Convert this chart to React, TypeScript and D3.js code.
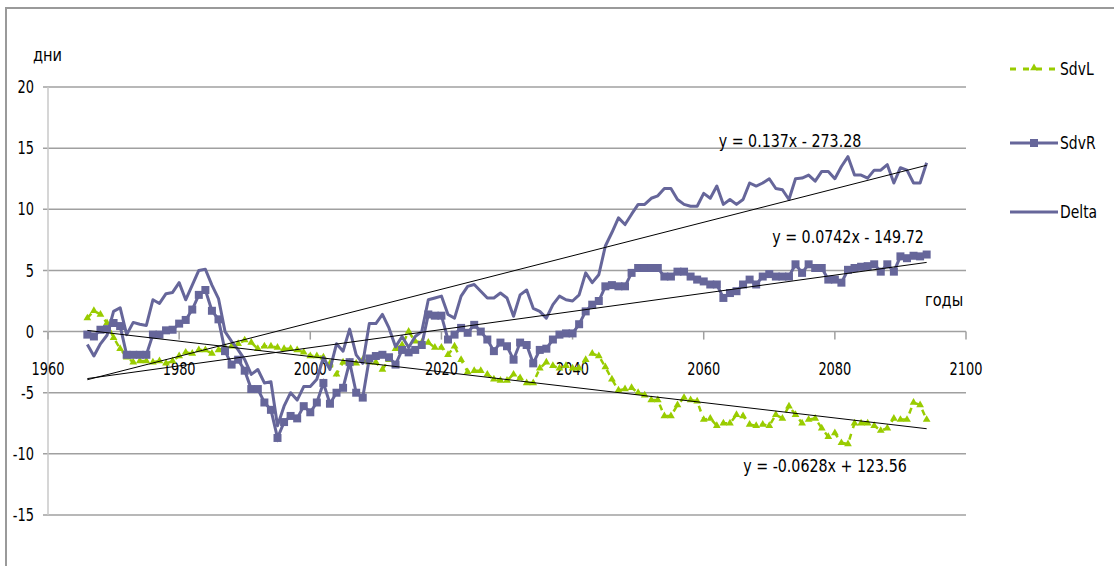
import * as d3 from "d3";

// years of the series (categories)
const startYear = 1966;

const sdvL = [
  1.1, 1.7, 1.4, 0.7, -0.5, -1.4, -2.1, -2.5, -2.4, -2.4,
  -2.5, -2.4, -2.6, -2.4, -2.0, -1.7, -1.8, -1.5, -1.5, -1.8,
  -1.5, -1.3, -1.2, -1.0, -0.7, -0.9, -1.4, -1.2, -1.2, -1.3,
  -1.4, -1.4, -1.5, -1.7, -2.0, -2.0, -2.1, -2.6, -3.5, -2.5,
  -2.5, -2.6, -2.3, -2.5, -2.5, -3.1, -2.3, -1.4, -1.1, 0.0,
  -0.8, -0.9, -0.9, -1.3, -1.3, -1.9, -1.2, -2.3, -3.3, -3.2,
  -3.2, -3.5, -3.9, -4.0, -4.0, -3.5, -3.8, -4.2, -4.2, -3.0,
  -2.5, -2.8, -3.0, -2.8, -3.0, -3.0, -2.3, -1.8, -2.0, -2.9,
  -3.9, -4.8, -4.7, -4.6, -5.0, -5.2, -5.6, -5.6, -6.9, -6.9,
  -6.0, -5.4, -5.6, -5.7, -7.2, -7.1, -7.7, -7.5, -7.5, -6.8,
  -6.9, -7.6, -7.7, -7.6, -7.7, -6.8, -7.1, -6.1, -6.8, -7.5,
  -7.2, -7.1, -7.9, -8.6, -8.3, -9.1, -9.2, -7.5, -7.5, -7.5,
  -7.7, -8.1, -7.9, -7.1, -7.2, -7.2, -5.8, -6.0, -7.2,
];

const sdvR = [
  -0.25, -0.4, 0.15, 0.2, 0.7, 0.45, -1.9, -1.9, -1.9, -1.9,
  -0.25, -0.25, 0.1, 0.15, 0.65, 0.95, 1.8, 3.0, 3.4, 1.7,
  1.0, -1.6, -2.7, -2.3, -3.2, -4.7, -4.7, -5.8, -6.4, -8.7,
  -7.4, -6.9, -7.1, -6.1, -6.6, -5.8, -4.2, -5.9, -5.0, -4.6,
  -2.5, -5.0, -5.4, -2.2, -2.0, -1.9, -2.1, -2.7, -1.5, -1.7,
  -1.5, -1.1, 1.4, 1.3, 1.3, -0.65, -0.25, 0.3, -0.1, 0.55,
  0.0, -0.65, -1.6, -0.9, -1.2, -2.3, -0.9, -1.1, -2.6, -1.5,
  -1.4, -0.65, -0.25, -0.15, -0.15, 0.6, 1.65, 2.2, 2.5, 3.7,
  3.8, 3.7, 3.7, 4.8, 5.2, 5.2, 5.2, 5.2, 4.5, 4.5,
  4.9, 4.9, 4.5, 4.25, 4.1, 3.85, 3.85, 2.75, 3.15, 3.3,
  3.85, 4.25, 3.85, 4.5, 4.7, 4.5, 4.5, 4.5, 5.5, 4.8,
  5.5, 5.2, 5.2, 4.25, 4.25, 4.0, 5.05, 5.2, 5.3, 5.35,
  5.5, 4.9, 5.5, 4.9, 6.15, 6.0, 6.2, 6.15, 6.3,
];

const delta = [
  -1.05, -2.0, -1.0, -0.3, 1.65, 1.95, -0.25, 0.75, 0.6, 0.5,
  2.6, 2.3, 3.1, 3.2, 4.0, 2.6, 3.8, 5.0, 5.1, 3.8,
  2.7, 0.0, -0.8, -1.5, -2.3, -3.5, -3.1, -4.2, -4.1, -7.7,
  -6.1, -5.0, -5.6, -4.5, -4.5, -3.9, -2.1, -3.1, -1.0, -1.6,
  0.2, -1.9, -2.6, 0.65, 0.65, 1.4, 0.3, -1.25, -0.4, -1.3,
  -0.4, 0.0, 2.6, 2.75, 2.9, 1.4, 1.1, 2.9, 3.7, 3.85,
  3.3, 2.75, 2.75, 3.15, 2.75, 1.25, 3.0, 3.4, 1.9, 1.65,
  1.1, 2.2, 2.9, 2.6, 2.5, 3.0, 4.8, 4.0, 4.65, 7.0,
  8.1, 9.3, 8.75, 9.6, 10.4, 10.4, 10.9, 11.1, 11.7, 11.7,
  10.8, 10.4, 10.25, 10.25, 11.3, 10.9, 11.9, 10.4, 10.8, 10.4,
  10.8, 12.15, 11.9, 12.15, 12.5, 11.7, 11.6, 10.8, 12.5, 12.55,
  12.8, 12.3, 13.1, 13.1, 12.5, 13.5, 14.3, 12.8, 12.8, 12.55,
  13.2, 13.2, 13.65, 12.15, 13.4, 13.2, 12.15, 12.15, 13.8,
];

const yTicks = [-15, -10, -5, 0, 5, 10, 15, 20];
const xTicks = [1960, 1980, 2000, 2020, 2040, 2060, 2080, 2100];

// linear trend lines shown on the chart
const trendSlopes = [0.137, 0.0742, -0.0628];
const trendIntercepts = [-273.28, -149.72, 123.56];
const trendLabels = ["y = 0.137x - 273.28", "y = 0.0742x - 149.72", "y = -0.0628x + 123.56"];

const purple = "#66669a";
const green = "#99cc00";
const grid = "#a0a0a0";
const font = "'DejaVu Sans Condensed', 'DejaVu Sans', sans-serif";

// narrow text: condensed font squeezed a bit more to look like the original
function T({ x, y, anchor = "start", sx = 0.86, children }: {
  x: number; y: number; anchor?: string; sx?: number; children: React.ReactNode;
}) {
  return (
    <g transform={`translate(${x},${y}) scale(${sx},1)`}>
      <text textAnchor={anchor as any} dominantBaseline="central" fontSize={18} fill="#000">
        {children}
      </text>
    </g>
  );
}

export default function App() {
  const width = 1114;
  const height = 566;

  const years = sdvR.map((_, i) => startYear + i);
  const lastYear = years[years.length - 1];

  const x = d3.scaleLinear().domain([1960, 2100]).range([48, 966]);
  const y = d3.scaleLinear().domain([-15, 20]).range([515, 87]);

  const line = d3.line<number>()
    .x((_, i) => x(years[i]))
    .y(d => y(d));

  const tri = d3.symbol(d3.symbolTriangle, 26)() as string;
  const sq = d3.symbol(d3.symbolSquare, 64)() as string;

  const labelPos = [
    { x: 790, y: 141 },
    { x: 848, y: 237 },
    { x: 825, y: 466 },
  ];

  return (
    <svg
      width={width}
      height={height}
      style={{ position: "absolute", left: 0, top: 0, display: "block", background: "#fff" }}
      fontFamily={font}
    >
      {/* outer frame */}
      <path d={`M6,${height} V8 H${width}`} fill="none" stroke="#9a9a9a" strokeWidth={2} />

      {/* grid */}
      {yTicks.map(t => (
        <line key={t} x1={43} x2={966} y1={y(t)} y2={y(t)} stroke={grid} strokeWidth={1.5} />
      ))}
      <line x1={x(1960)} x2={x(1960)} y1={y(20)} y2={y(-15)} stroke="#c8c8c8" strokeWidth={1.5} />

      {/* x ticks on the zero line */}
      {xTicks.map(t => (
        <line key={t} x1={x(t)} x2={x(t)} y1={y(0)} y2={y(0) + 8} stroke={grid} strokeWidth={1.5} />
      ))}

      {yTicks.map(t => (
        <T key={t} x={34} y={y(t)} anchor="end" sx={0.8}>{t}</T>
      ))}
      {xTicks.map(t => (
        <T key={t} x={x(t)} y={369} anchor="middle" sx={0.8}>{t}</T>
      ))}

      <T x={33} y={55} sx={0.9}>дни</T>
      <T x={925} y={300} sx={0.9}>годы</T>

      {/* SdvL */}
      <path d={line(sdvL) ?? ""} fill="none" stroke={green} strokeWidth={2.5} strokeDasharray="6 6" />
      {sdvL.map((d, i) => (
        <path key={i} d={tri} transform={`translate(${x(years[i])},${y(d)})`} fill={green} />
      ))}

      {/* SdvR */}
      <path d={line(sdvR) ?? ""} fill="none" stroke={purple} strokeWidth={3} />
      {sdvR.map((d, i) => (
        <path key={i} d={sq} transform={`translate(${x(years[i])},${y(d)})`} fill={purple} />
      ))}

      {/* Delta */}
      <path d={line(delta) ?? ""} fill="none" stroke={purple} strokeWidth={3} strokeLinejoin="round" />

      {/* trend lines */}
      {trendSlopes.map((s, k) => (
        <line
          key={k}
          x1={x(startYear)}
          x2={x(lastYear)}
          y1={y(s * startYear + trendIntercepts[k])}
          y2={y(s * lastYear + trendIntercepts[k])}
          stroke="#000"
          strokeWidth={1}
        />
      ))}
      {trendLabels.map((l, k) => (
        <T key={k} x={labelPos[k].x} y={labelPos[k].y} anchor="middle" sx={0.88}>{l}</T>
      ))}

      {/* legend */}
      <g>
        <line x1={1010} x2={1058} y1={69} y2={69} stroke={green} strokeWidth={3} strokeDasharray="6 7" />
        <path d={tri} transform="translate(1034,68)" fill={green} />
        <T x={1060} y={69}>SdvL</T>

        <line x1={1010} x2={1058} y1={143} y2={143} stroke={purple} strokeWidth={3} />
        <path d={sq} transform="translate(1034,143)" fill={purple} />
        <T x={1060} y={143}>SdvR</T>

        <line x1={1010} x2={1058} y1={212} y2={212} stroke={purple} strokeWidth={3} />
        <T x={1060} y={212}>Delta</T>
      </g>
    </svg>
  );
}
